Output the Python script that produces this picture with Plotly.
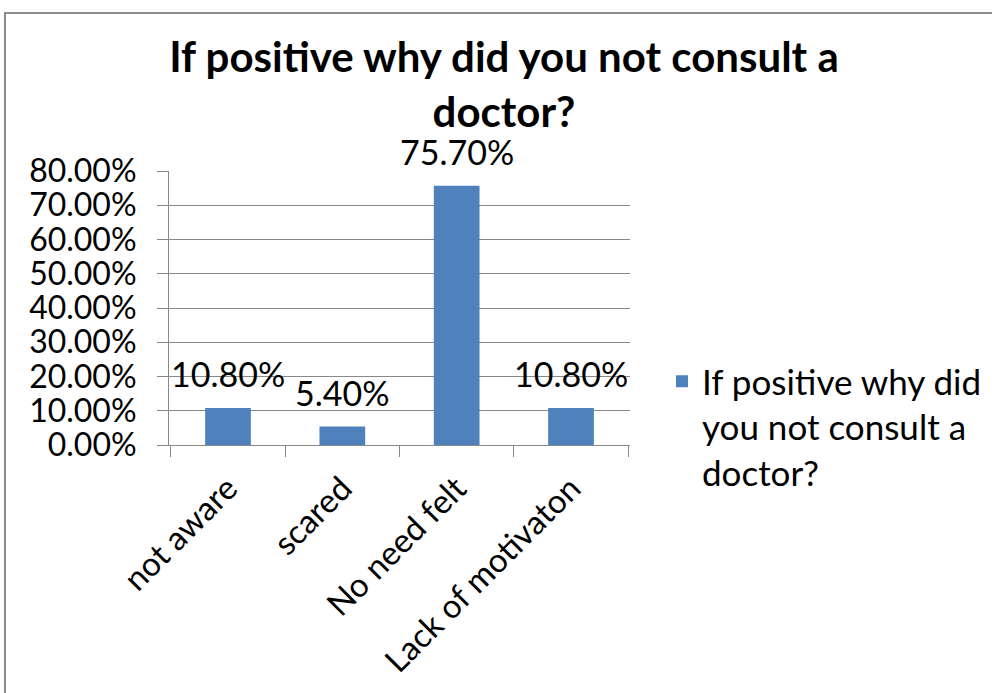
import plotly.graph_objects as go

# Survey answers and their shares
categories = ["not aware", "scared", "No need felt", "Lack of motivaton"]
shares = [0.108, 0.054, 0.757, 0.108]
series_name = "If positive why did<br>you not consult a<br>doctor?"
title_text = "If positive why did you not consult a<br>doctor?"

W, H = 992, 693
L, R, T, B = 169, 630, 171, 445  # plot-area pixel box

bar_color = "#4F81BD"
grid_color = "#888888"
font_family = "Lato"

fig = go.Figure(
    go.Bar(
        x=categories,
        y=shares,
        name=series_name,
        marker=dict(color=bar_color, line=dict(width=0)),
        width=0.4,
        showlegend=True,
    )
)

# Value labels above each bar
for cat, v in zip(categories, shares):
    fig.add_annotation(
        x=cat,
        y=v,
        text=f"{v:.2%}",
        showarrow=False,
        xanchor="center",
        yanchor="bottom",
        yshift=12,
        font=dict(family=font_family, size=34, color="#000000"),
    )

def px_x(x):
    return (x - L) / (R - L)

def px_y(y):
    return (B - y) / (B - T)

fig.update_layout(
    width=W,
    height=H,
    margin=dict(l=L, r=W - R, t=T, b=H - B, pad=0, autoexpand=False),
    paper_bgcolor="white",
    plot_bgcolor="white",
    font=dict(family=font_family, color="#000000"),
    title=dict(
        text=title_text,
        font=dict(family=font_family, size=42, color="#000000", weight="bold"),
        x=504 / W,
        xanchor="center",
        y=1 - 72 / H,
        yanchor="top",
    ),
    xaxis=dict(
        automargin=False,
        showline=True,
        linecolor=grid_color,
        linewidth=1,
        ticks="outside",
        ticklen=11,
        tickcolor=grid_color,
        tickson="boundaries",
        tickangle=-45,
        ticklabelstandoff=10,
        tickfont=dict(family=font_family, size=33, color="#000000"),
        showgrid=False,
    ),
    yaxis=dict(
        automargin=False,
        range=[0, 0.8],
        dtick=0.1,
        tickformat=".2%",
        showline=True,
        linecolor=grid_color,
        linewidth=1,
        ticks="outside",
        ticklen=11,
        tickcolor=grid_color,
        showgrid=True,
        gridcolor=grid_color,
        gridwidth=1,
        zeroline=False,
        ticklabelstandoff=14,
        tickfont=dict(family=font_family, size=32, color="#000000"),
    ),
    legend=dict(
        x=px_x(662),
        y=px_y(352),
        xanchor="left",
        yanchor="top",
        valign="top",
        font=dict(family=font_family, size=35, color="#000000"),
        bgcolor="rgba(0,0,0,0)",
        itemwidth=30,
    ),
    shapes=[
        dict(
            type="rect",
            xref="paper",
            yref="paper",
            x0=px_x(5),
            x1=px_x(1005),
            y0=px_y(13),
            y1=px_y(710),
            line=dict(color="#8c8c8c", width=2),
            fillcolor="rgba(0,0,0,0)",
            layer="below",
        )
    ],
)

fig.write_html("out.html")
